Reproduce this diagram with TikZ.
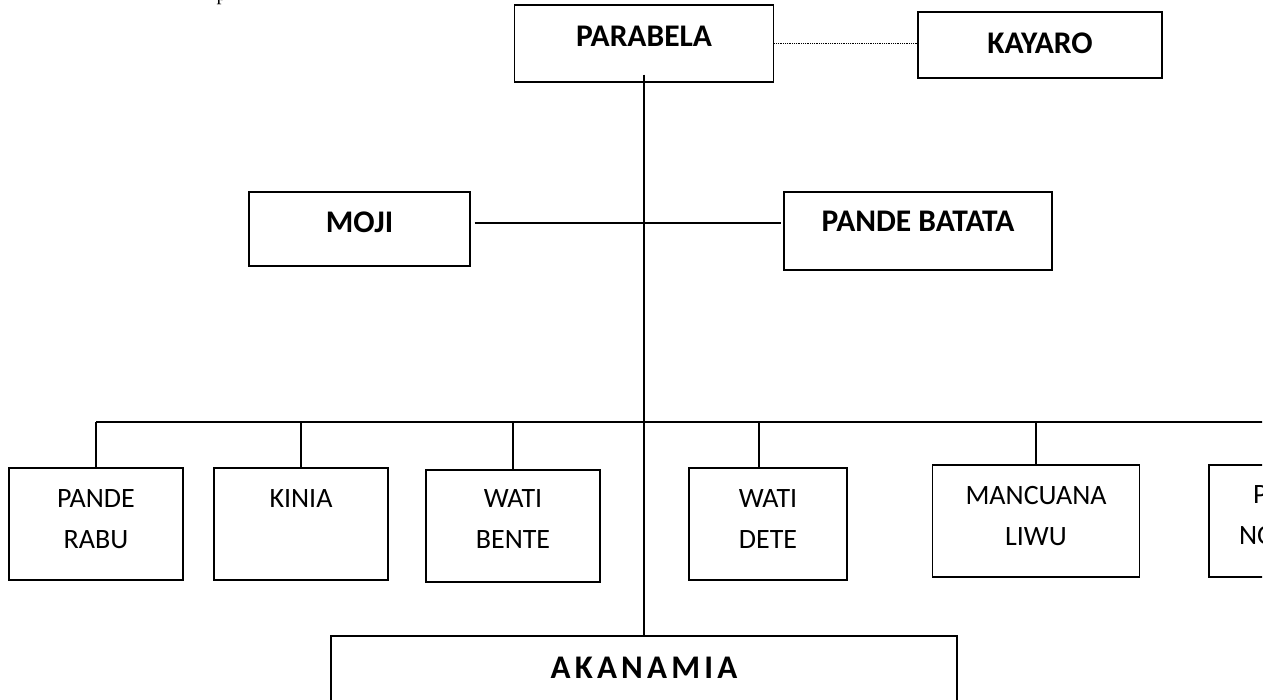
\documentclass[tikz,border=0pt]{standalone}
\usepackage{fontspec}
\setmainfont{Carlito}
\newfontfamily\serifp{Liberation Serif}
\usetikzlibrary{positioning}

\begin{document}
\begin{tikzpicture}[x=1pt, y=-1pt, line width=1.2pt,
    box/.style={draw, inner sep=0pt},
    headtxt/.style={inner sep=0pt, font=\fontsize{31.5}{36}\selectfont\bfseries},
    clantxt/.style={inner sep=0pt, align=center, font=\fontsize{28}{41}\selectfont}]
  \useasboundingbox (0,0) rectangle (1271,699);
  \clip (0,0) rectangle (1262,699);
  \node [anchor=base west, inner sep=0pt, font=\serifp\fontsize{20}{24}\selectfont] (toptxt) at (216,0) {p};

  \node [box, minimum width=259pt, minimum height=77pt] (parabela) at (644,43.5) {};
  \node [headtxt, below=21pt of parabela.north] (parabela-t) {PARABELA};
  \node [box, minimum width=244pt, minimum height=66pt] (kayaro) at (1040,45) {};
  \node [headtxt, below=21pt of kayaro.north] (kayaro-t) {KAYARO};
  \node [box, minimum width=221pt, minimum height=74pt] (moji) at (359.5,229) {};
  \node [headtxt, below=20pt of moji.north] (moji-t) {MOJI};
  \node [box, minimum width=268pt, minimum height=78pt] (batata) at (918,231) {};
  \node [headtxt, below=19pt of batata.north] (batata-t) {PANDE BATATA};

  \node [box, minimum width=174pt, minimum height=112pt] (rabu) at (96,524) {};
  \node [clantxt, below=22pt of rabu.north] (rabu-t) {PANDE\\RABU};
  \node [box, minimum width=174pt, minimum height=112pt] (kinia) at (301,524) {};
  \node [clantxt, below=22pt of kinia.north] (kinia-t) {KINIA};
  \node [box, minimum width=174pt, minimum height=112pt] (bente) at (513,526) {};
  \node [clantxt, below=20pt of bente.north] (bente-t) {WATI\\BENTE};
  \node [box, minimum width=158pt, minimum height=112pt] (dete) at (768,524) {};
  \node [clantxt, below=22pt of dete.north] (dete-t) {WATI\\DETE};
  \node [box, minimum width=207pt, minimum height=112pt] (liwu) at (1036,521) {};
  \node [clantxt, below=21pt of liwu.north] (liwu-t) {MANCUANA\\LIWU};
  \node [box, minimum width=174pt, minimum height=112pt] (last) at (1296,521) {};
  \node [clantxt, align=left, below right=21pt and 30pt of last.north west] (last-t) {\hspace*{14pt}P\\NO};

  \node [box, minimum width=626pt, minimum height=100pt] (akanamia) at (644,686) {};
  \node [headtxt, font=\fontsize{33}{38}\selectfont\bfseries, below=21pt of akanamia.north] (akanamia-t) {\spaceskip=4.2pt A K A N A M I A};

  \coordinate (mid) at (644,223);
  \coordinate (bus) at (0,422);
  \coordinate (dete-in) at ([xshift=-9pt]dete.north);

  \draw [densely dotted, line width=0.8pt] (parabela.east) -- (parabela.east -| kayaro.west);
  \draw ([yshift=8pt]parabela.south) -- (akanamia.north);
  \draw [shorten <=4pt, shorten >=2pt] (moji.east |- mid) -- (batata.west |- mid);
  \draw (rabu.north |- bus) -- (last.north |- bus);
  \foreach \n in {rabu,kinia,bente,liwu,last}
    \draw (\n.north) -- (\n.north |- bus);
  \draw (dete-in) -- (dete-in |- bus);
\end{tikzpicture}
\end{document}
